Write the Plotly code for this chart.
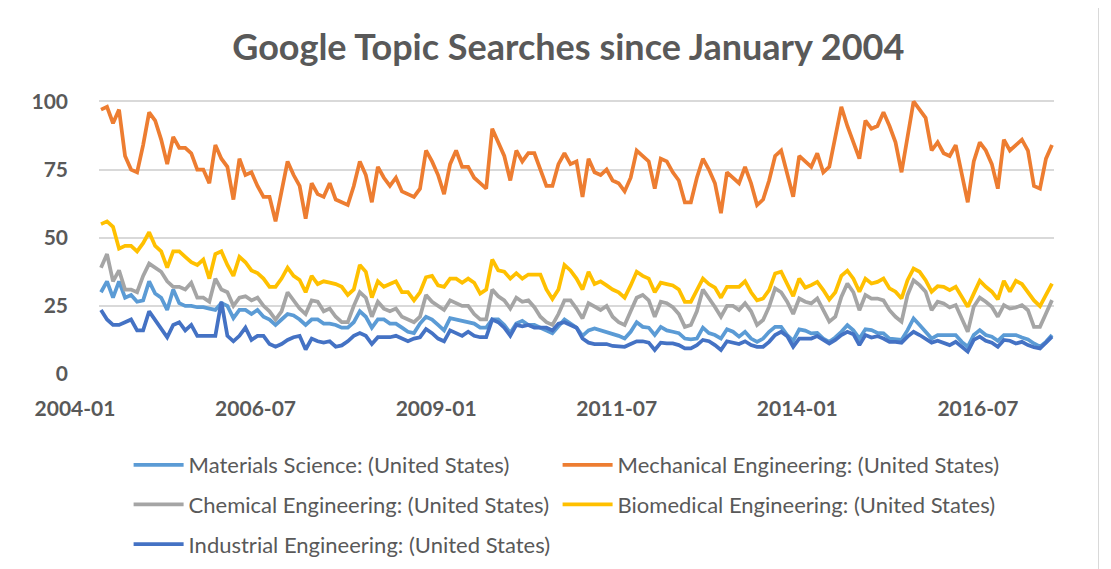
import plotly.graph_objects as go

# monthly categories, 2004-01 .. 2017-03
months = [f"{2004 + k // 12}-{k % 12 + 1:02d}" for k in range(159)]
tick_labels = ["2004-01", "2006-07", "2009-01", "2011-07", "2014-01", "2016-07"]

materials = [
    30, 34, 28, 34, 28, 29, 26.5, 27, 34, 29.5, 28, 23.5, 31, 26, 25, 25, 24.5, 24.5, 24, 23.5,
    26, 25, 20.5, 23.5, 23.5, 22, 23.5, 21, 20, 18, 20, 22, 21.5, 20, 18, 20, 20, 18.5, 18.5, 18,
    17, 17, 19, 23, 21, 17, 20, 20, 18.5, 18.5, 17, 15.5, 15, 18.5, 21, 20, 18, 16, 20.5, 20,
    19.5, 19, 18.5, 17, 17, 20, 20, 18, 15, 18.5, 19.5, 18, 18, 17, 16, 15, 17.5, 20, 18.5, 17,
    14, 16, 16.7, 16, 15.5, 14.6, 14, 13, 15.5, 19, 17.3, 17, 14.3, 17.3, 16, 15.5, 15, 13, 12.7, 13,
    17, 15, 14.3, 13, 16.4, 15.5, 13.7, 15.5, 13, 11.8, 13, 15.5, 17.3, 17.3, 14.3, 12.2, 16.4, 15.9, 14.9, 15.1,
    13, 11.8, 13.4, 15.5, 17.9, 16, 13, 16.4, 16.1, 15.1, 14.9, 13, 12.7, 12.5, 16.1, 20.4, 18, 15.5, 13, 14.3,
    14.3, 14.3, 14.3, 11.8, 10, 14.3, 16.1, 14.3, 13.7, 12.2, 14.3, 14.3, 14.3, 13.4, 12.7, 11.2, 10, 11.8, 14.3,
]
mechanical = [
    97, 98, 92, 97, 80, 75, 74, 84, 96, 93, 86, 77, 87, 83, 83, 81, 75, 75, 70, 84,
    79, 76, 64, 79, 73, 74, 69, 65, 65, 56, 67, 78, 73, 69, 57, 70, 66, 65, 70, 64,
    63, 62, 69, 78, 73, 63, 76, 72, 69, 72, 67, 66, 65, 68, 82, 78, 73, 66, 77, 82,
    76, 76, 72, 70, 68, 90, 85, 80, 71, 82, 78, 81, 81, 75, 69, 69, 77, 81, 77, 78,
    65, 79, 74, 73, 75, 71, 70, 67, 72, 82, 80, 78, 68, 79, 78, 74, 71, 63, 63, 72,
    79, 75, 70, 59, 74, 72, 70, 76, 70, 62, 64, 71, 80, 82, 74, 65, 80, 78, 76, 81,
    74, 76, 87, 98, 91, 85, 79, 93, 90, 91, 96, 91, 85, 74, 87, 100, 97, 94, 82, 85,
    81, 80, 84, 73, 63, 78, 85, 82, 77, 68, 86, 82, 84, 86, 82, 69, 68, 79, 84,
]
chemical = [
    39, 44, 34, 38, 31, 31, 30, 36, 40.5, 39, 37.5, 34, 32, 32, 31, 33.5, 28, 28, 26.5, 35,
    31, 30, 25, 28, 28.5, 27, 28, 25, 23, 20, 23, 30, 27, 24, 22, 27, 26.5, 23, 24, 21,
    19, 19, 25, 30, 28, 21, 26.5, 24, 23, 24, 21, 20, 19, 21, 29, 26.5, 25, 23.5, 27, 26,
    25, 25, 22, 20, 20, 31, 28.5, 27, 24, 28, 26.5, 27, 24.5, 21, 19, 18, 22, 27, 27, 24,
    20.4, 26, 24.7, 23.5, 25, 21, 19, 18, 23, 28, 29, 27, 21, 26.5, 26, 24.5, 22, 17.3, 18, 23,
    31, 28, 24.6, 21, 25, 25, 23.5, 26, 23, 18, 19.8, 24.7, 31.4, 30, 26.5, 22, 27.7, 26.5, 25.9, 27.7,
    23.4, 19.2, 21, 28.3, 33.2, 30, 23.4, 29, 27.7, 27.7, 27, 23.4, 21, 19.2, 29, 34.4, 32.6, 30.2, 23.4, 26.5,
    25.9, 24.4, 25.3, 20.4, 15.5, 24.7, 28, 26.5, 24.7, 21, 25.3, 24, 24.4, 25.3, 23.4, 17.3, 17.3, 22.2, 27.1,
]
biomedical = [
    55, 56, 54, 46, 47, 47, 45, 48, 52, 47, 45, 39, 45, 45, 43, 41, 40, 42, 35, 44,
    45, 40, 36, 43, 41, 38, 37, 35, 32, 32, 35, 39, 36, 34.5, 30, 36, 33, 34, 33.5, 33,
    32, 29, 31, 40, 37.5, 28, 34, 32, 33, 34, 30, 30, 27, 30, 35.5, 36, 32.5, 32, 35, 35,
    33.5, 35, 33.5, 29.5, 31, 42, 38, 37.5, 35, 37, 35, 36.5, 36.5, 36.5, 31, 27.5, 31, 40, 38, 35,
    31, 37.5, 33, 34, 32.5, 31, 30, 28, 32.5, 37.5, 36, 35, 30, 33.5, 33, 32.5, 31, 26.5, 26.5, 31,
    35, 33, 31.7, 28, 32, 32, 32, 34, 30, 27, 27.7, 30.8, 36.9, 37.5, 33, 28.6, 35, 31.7, 32.6, 33.8,
    30.8, 27.3, 30, 36, 37.9, 35, 30.2, 35, 33.2, 33.8, 35, 31.4, 30.2, 27.7, 34.4, 38.7, 37.5, 34.4, 30.2, 32.2,
    32, 30.8, 32, 28, 24.7, 29.5, 34.2, 32, 30.2, 27.4, 34.2, 30.2, 34.2, 33, 30.2, 27, 24.9, 29, 33.2,
]
industrial = [
    23.5, 20, 18, 18, 19, 20, 16, 16, 23, 20, 17, 13.5, 18, 19, 16, 18, 14, 14, 14, 14,
    26.5, 14, 12, 14, 17, 12.5, 14, 14, 11, 10, 11, 12.5, 13.5, 14, 9, 13, 12, 11.5, 12, 10,
    10.5, 12, 14, 15, 14, 11, 13.5, 13.5, 13.5, 14, 13, 12, 13, 13.5, 16.5, 15, 13, 12, 16, 15,
    14, 15.5, 14, 13.5, 13.5, 20, 19, 17, 14, 18, 17.5, 18, 17, 17, 17, 16, 18.5, 19, 18, 17,
    13, 11.5, 11, 11, 11, 10.3, 10, 10, 11, 12, 12, 11.5, 8.8, 11.5, 11.2, 11.2, 10.6, 9.4, 9.4, 10.6,
    12.5, 12, 10.6, 8.8, 12, 11.5, 11, 12, 10.6, 10, 10, 11.8, 14.3, 15.5, 13.9, 10, 13, 13, 13, 13.9,
    12.5, 11.2, 12.5, 14.3, 15.5, 14.6, 10.6, 14.3, 13.4, 13.9, 13, 11.8, 11.8, 11.5, 13.7, 15.5, 14.3, 13, 11.5, 12.2,
    11.5, 10.6, 11.8, 9.8, 8.2, 12.5, 13.7, 12.2, 11.5, 10, 12.5, 12.2, 11.2, 11.8, 10.6, 9.8, 9.4, 11.5, 13.7,
]

# (name, values, colour, legend column)
series = [
    ("Materials Science: (United States)", materials, "#5B9BD5", "legend"),
    ("Mechanical Engineering: (United States)", mechanical, "#ED7D31", "legend2"),
    ("Chemical Engineering: (United States)", chemical, "#A5A5A5", "legend"),
    ("Biomedical Engineering: (United States)", biomedical, "#FFC000", "legend2"),
    ("Industrial Engineering: (United States)", industrial, "#4472C4", "legend"),
]

GREY = "#595959"
FONT = "Lato, 'Open Sans', sans-serif"

fig = go.Figure()
for name, vals, color, leg in series:
    fig.add_trace(go.Scatter(
        x=months, y=vals, name=name, mode="lines",
        line=dict(color=color, width=3.75), legend=leg, legendgroup=name,
    ))

# two vertical legends (one per column), groups spaced like the Excel rows
leg_common = dict(
    orientation="v", xref="paper", yref="container",
    xanchor="left", yanchor="top", y=0.2228,
    font=dict(family=FONT, size=22, color=GREY),
    itemwidth=50, tracegroupgap=8, bgcolor="rgba(0,0,0,0)",
)

# page body adds an 8px margin, so the figure is 8px smaller than the window
fig.update_layout(
    width=1103, height=561,
    margin=dict(l=91, r=57, t=88, b=195),
    paper_bgcolor="white", plot_bgcolor="white",
    font=dict(family=FONT, color=GREY),
    title=dict(
        text="Google Topic Searches since January 2004",
        x=0.508, xanchor="center", y=0.929, yanchor="middle",
        font=dict(family=FONT, size=36, color=GREY, weight="bold"),
    ),
    legend=dict(leg_common, x=0.031),
    legend2=dict(leg_common, x=0.4802),
    showlegend=True,
)
fig.update_xaxes(
    type="category", range=[-0.33, 158.33],
    tickmode="array", tickvals=tick_labels, ticktext=tick_labels,
    showgrid=False, showline=False, ticks="",
    tickfont=dict(family=FONT, size=21, color=GREY, weight="bold"),
    ticklabelshift=-26, ticklabelstandoff=20,
)
fig.update_yaxes(
    range=[0, 102], tickvals=[0, 25, 50, 75, 100],
    showgrid=True, gridcolor="#D9D9D9", gridwidth=1.5,
    zeroline=False, showline=False, ticks="",
    tickfont=dict(family=FONT, size=21, color=GREY, weight="bold"),
    ticklabelstandoff=30,
)
fig.add_shape(type="line", xref="paper", yref="paper",
              x0=1.0466, x1=1.0466, y0=-0.71, y1=1.33,
              line=dict(color="#D9D9D9", width=1))

fig.write_html("out.html")
